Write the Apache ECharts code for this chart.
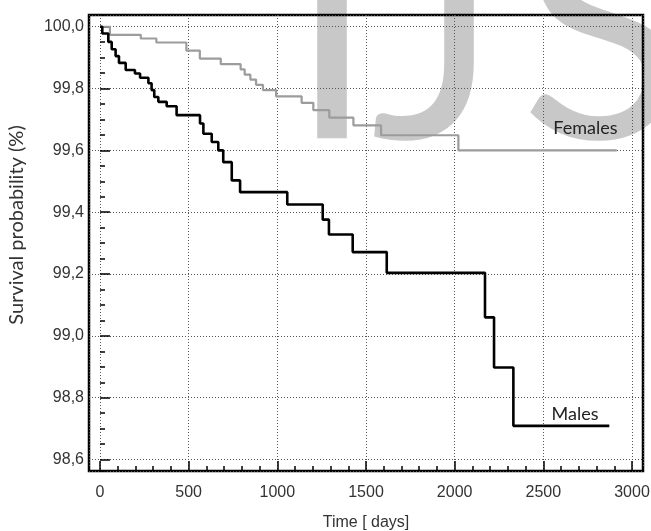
<!DOCTYPE html>
<html>
<head>
<meta charset="utf-8">
<script src="https://cdn.jsdelivr.net/npm/echarts@6/dist/echarts.min.js"></script>
<style>
  html, body { margin: 0; padding: 0; background: #fff; }
  #chart { width: 651px; height: 531px; }
</style>
</head>
<body>
<div id="chart"></div>
<script>
// Kaplan-Meier steps: event time (days) and survival (%) after the drop
const maleTimes = [0, 13, 47, 66, 88, 107, 145, 197, 226, 273, 291, 306, 329, 376, 432, 564, 583, 630, 667, 695, 743, 790, 1056, 1256, 1291, 1425, 1617, 2171, 2222, 2331, 2872];
const maleValues = [100, 99.978, 99.951, 99.927, 99.905, 99.883, 99.86, 99.849, 99.835, 99.817, 99.795, 99.773, 99.757, 99.743, 99.714, 99.687, 99.654, 99.627, 99.6, 99.562, 99.503, 99.465, 99.425, 99.376, 99.328, 99.271, 99.204, 99.06, 98.898, 98.709, 98.709];

const femaleTimes = [0, 56, 230, 318, 487, 563, 681, 793, 816, 848, 880, 919, 993, 1137, 1203, 1293, 1429, 1585, 2021, 2914];
const femaleValues = [100, 99.974, 99.962, 99.949, 99.923, 99.897, 99.879, 99.862, 99.845, 99.829, 99.812, 99.795, 99.775, 99.754, 99.73, 99.706, 99.681, 99.649, 99.6, 99.6];

const xRange = [-62, 3062];
const yRange = [98.563, 100.038];

const chart = echarts.init(document.getElementById('chart'));

function zip(xs, ys) {
  return xs.map((x, i) => [x, ys[i]]);
}

const tickFont = { fontFamily: 'Liberation Sans', fontSize: 16, color: '#333' };
const dotted = { color: '#555', width: 1, type: [1, 2] };

const option = {
  animation: false,
  grid: {
    left: 89, right: 8, top: 15, bottom: 60,
    containLabel: false, outerBoundsMode: 'none',
    show: true, borderColor: '#000', borderWidth: 2.5, backgroundColor: 'transparent'
  },
  graphic: [
    // watermark
    { type: 'text', z: -10, silent: true, x: 332, y: 40,
      style: { text: 'I', fontFamily: 'Lato', fontSize: 305, fill: '#c8c8c8', align: 'center', verticalAlign: 'middle' } },
    { type: 'text', z: -10, silent: true, x: 435, y: 40,
      style: { text: 'J', fontFamily: 'Lato', fontSize: 305, fill: '#c8c8c8', align: 'center', verticalAlign: 'middle' } },
    { type: 'text', z: -10, silent: true, x: 603, y: 40,
      style: { text: 'S', fontFamily: 'Lato', fontSize: 305, fill: '#c8c8c8', align: 'center', verticalAlign: 'middle' } },
    // y axis title
    { type: 'text', x: 17, y: 225, rotation: Math.PI / 2,
      style: { text: 'Survival probability (%)', fontFamily: 'Lato', fontSize: 20, fill: '#333', align: 'center', verticalAlign: 'middle' } }
  ],
  xAxis: [
    {
      type: 'value', min: xRange[0], max: xRange[1], splitNumber: 6,
      axisLine: { show: false },
      axisTick: { show: true, inside: true, length: 10, lineStyle: { color: '#000', width: 1.5 } },
      axisLabel: Object.assign({
        margin: 14, showMinLabel: false, showMaxLabel: false,
        formatter: v => String(v)
      }, tickFont),
      splitLine: { show: true, lineStyle: dotted },
      name: 'Time [ days]', nameLocation: 'middle', nameGap: 44,
      nameTextStyle: { fontFamily: 'Liberation Sans', fontSize: 16, color: '#333' }
    },
    {
      type: 'value', position: 'bottom', min: xRange[0], max: xRange[1], splitNumber: 31,
      axisLine: { show: false },
      axisTick: { show: true, inside: true, length: 5, lineStyle: { color: '#000', width: 1.5 } },
      axisLabel: { show: false },
      splitLine: { show: false }
    }
  ],
  yAxis: [
    {
      type: 'value', min: yRange[0], max: yRange[1], splitNumber: 7,
      axisLine: { show: false },
      axisTick: { show: true, inside: true, length: 10, lineStyle: { color: '#000', width: 1.5 } },
      axisLabel: Object.assign({
        margin: 5, showMinLabel: false, showMaxLabel: false,
        formatter: v => v.toFixed(1).replace('.', ',')
      }, tickFont),
      splitLine: { show: true, lineStyle: dotted }
    },
    {
      type: 'value', position: 'left', min: yRange[0], max: yRange[1], splitNumber: 30,
      axisLine: { show: false },
      axisTick: { show: true, inside: true, length: 5, lineStyle: { color: '#000', width: 1.5 } },
      axisLabel: { show: false },
      splitLine: { show: false }
    }
  ],
  series: [
    {
      name: 'Females', type: 'line', step: 'end', xAxisIndex: 0, yAxisIndex: 0,
      data: zip(femaleTimes, femaleValues),
      showSymbol: false, lineStyle: { color: '#9c9c9c', width: 2.2 },
      markPoint: {
        symbol: 'circle', symbolSize: 0,
        label: { show: true, position: 'inside', formatter: 'Females', fontFamily: 'Lato', fontSize: 18, color: '#222' },
        data: [{ coord: [2737, 99.671] }]
      }
    },
    {
      name: 'Males', type: 'line', step: 'end', xAxisIndex: 0, yAxisIndex: 0,
      data: zip(maleTimes, maleValues),
      showSymbol: false, lineStyle: { color: '#000', width: 2.6 },
      markPoint: {
        symbol: 'circle', symbolSize: 0,
        label: { show: true, position: 'inside', formatter: 'Males', fontFamily: 'Lato', fontSize: 18, color: '#222' },
        data: [{ coord: [2679, 98.748] }]
      }
    }
  ]
};

chart.setOption(option);
</script>
</body>
</html>
